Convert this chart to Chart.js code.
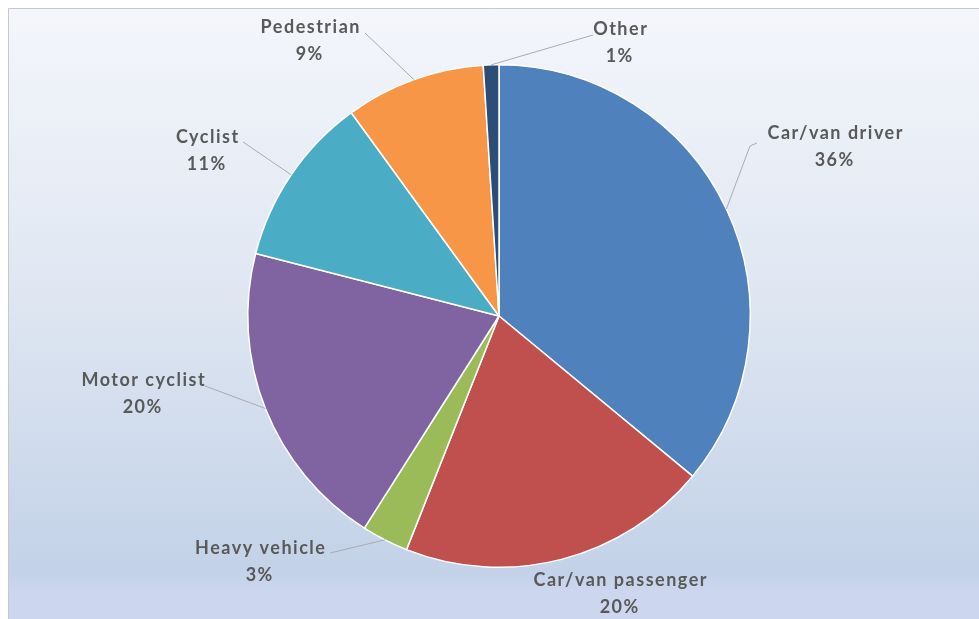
<!DOCTYPE html>
<html>
<head>
<meta charset="utf-8">
<script src="https://cdn.jsdelivr.net/npm/chart.js@4/dist/chart.umd.min.js"></script>
<style>
  html, body { margin: 0; padding: 0; background: #ffffff; }
  #wrap { position: relative; width: 979px; height: 619px; }
</style>
</head>
<body>
<div id="wrap"><canvas id="pie" width="979" height="619"></canvas></div>
<script>
// Road user categories and their share of casualties (%)
const categories = ['Car/van driver', 'Car/van passenger', 'Heavy vehicle', 'Motor cyclist', 'Cyclist', 'Pedestrian', 'Other'];
const shares = [36, 20, 3, 20, 11, 9, 1];

const sliceColors = ['#4F81BD', '#C0504D', '#9BBB59', '#8064A2', '#4BACC6', '#F79646', '#2C4D75'];

// Label placement relative to the pie centre: text centre (tx, ty of the first line)
// and where the leader line leaves the text (lx, ly); elbow is optional.
const labelPlacement = [
  { tx: 336, ty: -183, lx: 258, ly: -173, elbow: [251, -170] },
  { tx: 121, ty: 264, lx: null, ly: null },
  { tx: -239, ty: 232, lx: -169, ly: 237 },
  { tx: -356, ty: 64, lx: -294, ly: 70 },
  { tx: -292, ty: -179, lx: -256, ly: -174 },
  { tx: -189, ty: -289, lx: -134, ly: -283 },
  { tx: 121, ty: -287, lx: 94, ly: -281 }
];

const backgroundPlugin = {
  id: 'panelBackground',
  beforeDraw(chart) {
    const ctx = chart.ctx;
    const w = chart.width, h = chart.height;
    ctx.save();
    ctx.fillStyle = '#ffffff';
    ctx.fillRect(0, 0, w, h);
    const g = ctx.createLinearGradient(0, 8, 0, h);
    g.addColorStop(0, '#f4f6fb');
    g.addColorStop(0.45, '#e0e7f2');
    g.addColorStop(0.92, '#c3d2e8');
    g.addColorStop(0.955, '#ccd6ee');
    g.addColorStop(1, '#ccd6ee');
    ctx.fillStyle = g;
    ctx.fillRect(8, 8, w - 8, h - 8);
    ctx.strokeStyle = '#c8c8c8';
    ctx.lineWidth = 1;
    ctx.beginPath();
    ctx.moveTo(8.5, h);
    ctx.lineTo(8.5, 8.5);
    ctx.lineTo(w, 8.5);
    ctx.stroke();
    ctx.restore();
  }
};

const labelPlugin = {
  id: 'sliceLabels',
  afterDatasetsDraw(chart) {
    const ctx = chart.ctx;
    const meta = chart.getDatasetMeta(0);
    const total = shares.reduce((a, b) => a + b, 0);
    const spacing = 1.5;
    ctx.save();
    meta.data.forEach((arc, i) => {
      const p = labelPlacement[i];
      const cx = arc.x, cy = arc.y;
      const mid = (arc.startAngle + arc.endAngle) / 2;
      const ex = cx + Math.cos(mid) * arc.outerRadius;
      const ey = cy + Math.sin(mid) * arc.outerRadius;
      if (p.lx !== null) {
        ctx.strokeStyle = '#a9acb3';
        ctx.lineWidth = 1;
        ctx.beginPath();
        ctx.moveTo(cx + p.lx, cy + p.ly);
        if (p.elbow) ctx.lineTo(cx + p.elbow[0], cy + p.elbow[1]);
        ctx.lineTo(ex, ey);
        ctx.stroke();
      }
      ctx.fillStyle = '#595959';
      ctx.font = 'bold 18px Lato';
      ctx.letterSpacing = spacing + 'px';
      ctx.textAlign = 'center';
      ctx.textBaseline = 'middle';
      const pct = Math.round(shares[i] / total * 100) + '%';
      ctx.fillText(categories[i], cx + p.tx + spacing / 2, cy + p.ty);
      ctx.fillText(pct, cx + p.tx - 1 + spacing / 2, cy + p.ty + 27);
    });
    ctx.restore();
  }
};

new Chart(document.getElementById('pie'), {
  type: 'pie',
  data: {
    labels: categories,
    datasets: [{
      data: shares,
      backgroundColor: sliceColors,
      borderColor: '#ffffff',
      borderWidth: 1.5
    }]
  },
  options: {
    responsive: false,
    animation: false,
    layout: { padding: { top: 64, bottom: 51, left: 19, right: 0 } },
    plugins: {
      legend: { display: false },
      tooltip: { enabled: false }
    }
  },
  plugins: [backgroundPlugin, labelPlugin]
});
</script>
</body>
</html>
